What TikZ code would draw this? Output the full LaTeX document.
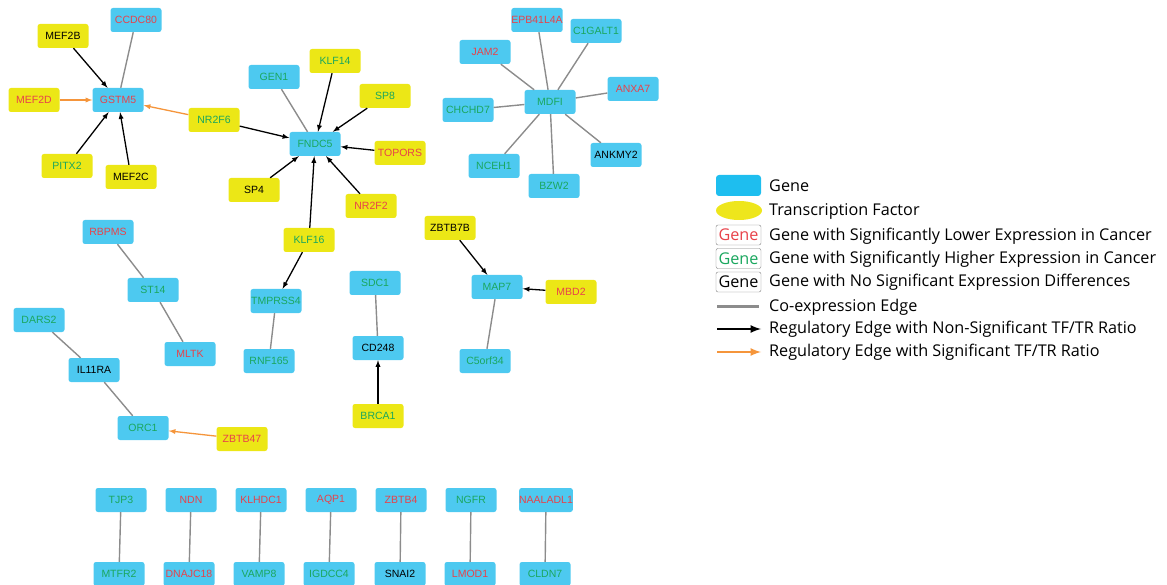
\documentclass[tikz,border=0pt]{standalone}
\usepackage{fontspec}
\setmainfont{Liberation Sans}
\newfontfamily\legfont{Open Sans}
\usetikzlibrary{shapes.geometric}
\definecolor{genefill}{HTML}{4DC9F0}
\definecolor{tffill}{HTML}{ECE716}
\definecolor{lored}{HTML}{E8424A}
\definecolor{higreen}{HTML}{1AA75E}
\definecolor{coexpgray}{HTML}{8C8C8C}
\definecolor{sigorange}{HTML}{F5953B}
\definecolor{legblue}{HTML}{1EBEEF}
\definecolor{legtf}{HTML}{EEE61C}

\begin{document}
\begin{tikzpicture}[x=1pt,y=-1pt,
  gene/.style={fill=genefill,rounded corners=2.5pt,minimum width=51pt,minimum height=24pt,inner sep=0pt,font=\fontsize{10.5}{12}\selectfont},
  tf/.style={gene,fill=tffill},
  lo/.style={text=lored},
  hi/.style={text=higreen},
  ns/.style={text=black},
  coexp/.style={draw=coexpgray,line width=1.4pt},
  reg/.style={->,>=latex,line width=1.3pt},
  sig/.style={reg,draw=sigorange},
  legtext/.style={font=\legfont\fontsize{16.2}{18}\selectfont,inner sep=0pt},
  legbox/.style={legtext,draw=gray,fill=white,rounded corners=2pt,minimum width=45pt,minimum height=20pt}]
\useasboundingbox (0,0) rectangle (1167,585);

% GSTM5 cluster
\node[gene,lo] (CCDC80)at(136,20){CCDC80};
\node[tf,ns] (MEF2B)at(63,36){MEF2B};
\node[gene,lo] (GSTM5)at(118,100){GSTM5};
\node[tf,lo] (MEF2D)at(34,100){MEF2D};
\node[tf,hi] (NR2F6)at(214,120){NR2F6};
\node[tf,hi] (PITX2)at(67,166){PITX2};
\node[tf,ns] (MEF2C)at(131,177){MEF2C};
\draw[coexp] (CCDC80) to (GSTM5);
\draw[reg] (MEF2B) to (GSTM5);
\draw[sig] (MEF2D) to (GSTM5);
\draw[sig] (NR2F6) to (GSTM5);
\draw[reg] (PITX2) to (GSTM5);
\draw[reg] (MEF2C) to (GSTM5);

% FNDC5 cluster
\node[gene,hi] (GEN1)at(274,77){GEN1};
\node[tf,hi] (KLF14)at(335,61){KLF14};
\node[tf,hi] (SP8)at(385,96){SP8};
\node[gene,hi] (FNDC5)at(315,144){FNDC5};
\node[tf,lo] (TOPORS)at(400,153){TOPORS};
\node[tf,ns] (SP4)at(254,190){SP4};
\node[tf,lo] (NR2F2)at(371,206){NR2F2};
\node[tf,hi] (KLF16)at(309,240){KLF16};
\node[gene,hi] (TMPRSS4)at(276,301){TMPRSS4};
\node[gene,hi] (RNF165)at(269,361){RNF165};
\draw[coexp] (GEN1) to (FNDC5);
\draw[reg] (KLF14) to (FNDC5);
\draw[reg] (SP8) to (FNDC5);
\draw[reg] (NR2F6) to (FNDC5);
\draw[reg] (TOPORS) to (FNDC5);
\draw[reg] (SP4) to (FNDC5);
\draw[reg] (NR2F2) to (FNDC5);
\draw[reg] (KLF16) to (FNDC5);
\draw[reg] (KLF16) to (TMPRSS4);
\draw[coexp] (TMPRSS4) to (RNF165);

% MDFI cluster
\node[gene,lo] (EPB41L4A)at(537,20){EPB41L4A};
\node[gene,hi] (C1GALT1)at(596,31){C1GALT1};
\node[gene,lo] (JAM2)at(485,52){JAM2};
\node[gene,lo] (ANXA7)at(633,89){ANXA7};
\node[gene,hi] (CHCHD7)at(468,110){CHCHD7};
\node[gene,hi] (MDFI)at(550,102){MDFI};
\node[gene,ns] (ANKMY2)at(616,155){ANKMY2};
\node[gene,hi] (NCEH1)at(494,166){NCEH1};
\node[gene,hi] (BZW2)at(554,186){BZW2};
\foreach \g in {EPB41L4A,C1GALT1,JAM2,ANXA7,CHCHD7,ANKMY2,NCEH1,BZW2}
  \draw[coexp] (MDFI) to (\g);

% small clusters
\node[gene,lo] (RBPMS)at(108,232){RBPMS};
\node[gene,hi] (ST14)at(153,290){ST14};
\node[gene,lo] (MLTK)at(190,354){MLTK};
\node[gene,hi] (DARS2)at(39,320){DARS2};
\node[gene,ns] (IL11RA)at(94,370){IL11RA};
\node[gene,hi] (ORC1)at(143,428){ORC1};
\node[tf,lo] (ZBTB47)at(242,439){ZBTB47};
\draw[coexp] (RBPMS) to (ST14);
\draw[coexp] (ST14) to (MLTK);
\draw[coexp] (DARS2) to (IL11RA);
\draw[coexp] (IL11RA) to (ORC1);
\draw[sig] (ZBTB47) to (ORC1);

\node[gene,hi] (SDC1)at(375,283){SDC1};
\node[gene,ns] (CD248)at(378,348){CD248};
\node[tf,hi] (BRCA1)at(378,416){BRCA1};
\draw[coexp] (SDC1) to (CD248);
\draw[reg] (BRCA1) to (CD248);

\node[tf,ns] (ZBTB7B)at(450,228){ZBTB7B};
\node[gene,hi] (MAP7)at(497,287){MAP7};
\node[tf,lo] (MBD2)at(571,292){MBD2};
\node[gene,hi] (C5orf34)at(485,361){C5orf34};
\draw[reg] (ZBTB7B) to (MAP7);
\draw[reg] (MBD2) to (MAP7);
\draw[coexp] (MAP7) to (C5orf34);

% gene pairs
\foreach \a/\ca/\xa/\b/\cb/\xb in {TJP3/hi/121/MTFR2/hi/119, NDN/lo/191/DNAJC18/lo/189,
    KLHDC1/lo/261/VAMP8/hi/259, AQP1/lo/331/IGDCC4/hi/329, ZBTB4/lo/401/SNAI2/ns/400,
    NGFR/hi/471/LMOD1/lo/470, NAALADL1/lo/546/CLDN7/hi/545}{
  \node[gene,\ca] (\a)at(\xa,500){\a};
  \node[gene,\cb] (\b)at(\xb,574){\b};
  \draw[coexp] (\a) to (\b);
}

% legend
\node[fill=legblue,rounded corners=3pt,minimum width=45pt,minimum height=21pt,inner sep=0pt] (lgene)at(738.5,185.5){};
\node[fill=legtf,ellipse,minimum width=46pt,minimum height=19pt,inner sep=0pt] (ltf)at(739,210.5){};
\node[legbox,text=lored] (llo)at(738.5,235){Gene};
\node[legbox,text=higreen] (lhi)at(738.5,258.5){Gene};
\node[legbox,text=black] (lns)at(738.5,282){Gene};
\coordinate (lcoA)at(717,307); \coordinate (lcoB)at(759,307);
\coordinate (lregA)at(717,329); \coordinate (lregB)at(761,329);
\coordinate (lsigA)at(717,352); \coordinate (lsigB)at(761,352);
\draw[draw=coexpgray,line width=3pt] (lcoA) to (lcoB);
\draw[->,>=latex,line width=2.5pt] (lregA) to (lregB);
\draw[->,>=latex,line width=2.5pt,draw=sigorange] (lsigA) to (lsigB);
\node[legtext,anchor=west] (tgene)at(769,186){Gene};
\node[legtext,anchor=west] (ttf)at(769,212){Transcription Factor};
\node[legtext,anchor=west] (tlo)at(769,236){Gene with Significantly Lower Expression in Cancer};
\node[legtext,anchor=west] (thi)at(769,259){Gene with Significantly Higher Expression in Cancer};
\node[legtext,anchor=west] (tns)at(769,282){Gene with No Significant Expression Differences};
\node[legtext,anchor=west] (tco)at(769,307){Co-expression Edge};
\node[legtext,anchor=west] (treg)at(769,329){Regulatory Edge with Non-Significant TF/TR Ratio};
\node[legtext,anchor=west] (tsig)at(769,352){Regulatory Edge with Significant TF/TR Ratio};
\end{tikzpicture}
\end{document}
